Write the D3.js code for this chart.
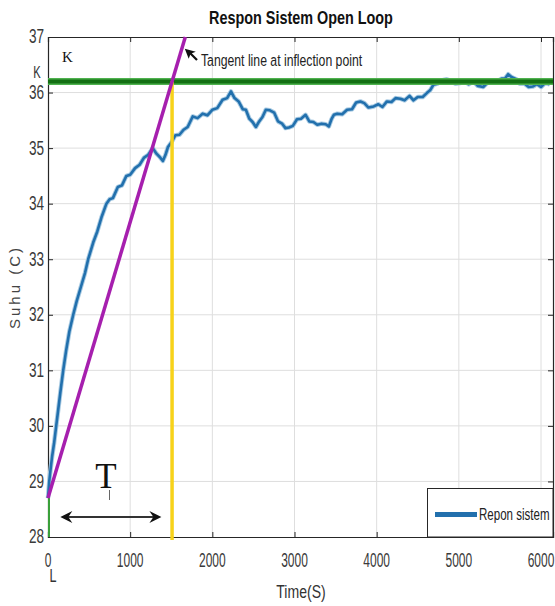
<!DOCTYPE html>
<html><head><meta charset="utf-8">
<script src="https://cdn.jsdelivr.net/npm/d3@7"></script>
<style>body{margin:0;background:#fff}svg{display:block}</style>
</head><body>
<svg id="c" width="555" height="606"></svg>
<script>
// ---- data ----
const timeS = [0,15,30,50,75,100,125,150,185,220,260,307,350,400,450,489,550,600,650,711,750,790,850,900,954,1000,1060,1115,1170,1220,1276,1320,1360,1398,1430,1460,1500,1550,1600,1650,1700,1761,1820,1882,1940,2000,2060,2125,2180,2227,2270,2320,2370,2408,2450,2490,2530,2570,2610,2651,2700,2752,2800,2850,2890,2933,2980,3030,3080,3135,3180,3230,3277,3330,3380,3418,3450,3479,3520,3580,3640,3700,3750,3802,3850,3900,3964,4020,4070,4125,4180,4230,4287,4340,4400,4448,4500,4560,4610,4650,4691,4740,4790,4852,4900,4960,5014,5070,5120,5176,5230,5297,5350,5418,5470,5520,5560,5600,5640,5700,5741,5800,5850,5903,5950,6000,6050,6105];
const suhu = [28.7,29.0,29.2,29.45,29.7,30.0,30.3,30.6,31.0,31.35,31.7,32.0,32.25,32.5,32.75,33.0,33.3,33.5,33.75,34.0,
  34.08,34.1,34.3,34.33,34.5,34.52,34.64,34.7,34.83,34.88,
  35.0,34.9,34.84,34.77,34.88,35.02,35.1,35.23,35.24,35.33,
  35.38,35.57,35.54,35.62,35.59,35.69,35.72,35.87,35.9,36.02,
  35.9,35.84,35.7,35.69,35.53,35.47,35.38,35.48,35.56,35.69,
  35.68,35.64,35.48,35.44,35.36,35.37,35.4,35.52,35.53,35.6,
  35.48,35.47,35.42,35.44,35.43,35.39,35.52,35.6,35.62,35.61,
  35.69,35.7,35.82,35.84,35.81,35.73,35.75,35.79,35.74,35.84,
  35.83,35.9,35.89,35.86,35.94,35.86,35.92,35.92,35.99,36.04,
  36.14,36.16,36.22,36.24,36.21,36.16,36.17,36.21,36.15,36.2,
  36.12,36.1,36.18,36.2,36.2,36.25,36.25,36.33,36.28,36.24,
  36.16,36.16,36.1,36.11,36.15,36.1,36.17,36.15];
const xTicks = [0,1000,2000,3000,4000,5000,6000];
const yTicks = [28,29,30,31,32,33,34,35,36,37];
const K = 36.2;          // steady-state value
const Lval = 0;          // delay L
const y0 = 28.7;         // initial value
const tInflect = 1510;   // L+T
const legendLabel = "Repon sistem";

// ---- layout ----
const svg = d3.select("#c");
const m = {l:48, r:553, t:37, b:537};
const x = d3.scaleLinear().domain([0,6146]).range([m.l, m.r]);
const y = d3.scaleLinear().domain([28,37]).range([m.b, m.t]);
const SX = 0.7;
const SANS = "'Liberation Sans', Arial, sans-serif";
const SERIF = "'Liberation Serif', 'Times New Roman', serif";

function txt(px, py, s, o={}) {
  const g = svg.append("g").attr("transform", `translate(${px},${py}) scale(${o.sx ?? SX},1)${o.rot?` rotate(${o.rot})`:""}`);
  return g.append("text").text(s)
    .attr("font-family", o.family || SANS)
    .attr("font-size", o.size || 18)
    .attr("font-weight", o.weight || "normal")
    .attr("fill", o.fill || "#262626")
    .attr("text-anchor", o.anchor || "start")
    .attr("dominant-baseline", o.baseline || "alphabetic")
    .attr("letter-spacing", o.ls || 0);
}

// grid
const grid = svg.append("g").attr("stroke", "#dedede").attr("stroke-width", 1);
xTicks.filter(d => d > 0).forEach(d => grid.append("line").attr("x1", x(d)).attr("x2", x(d)).attr("y1", m.t).attr("y2", m.b));
yTicks.filter(d => d > 28 && d < 37).forEach(d => grid.append("line").attr("x1", m.l).attr("x2", m.r).attr("y1", y(d)).attr("y2", y(d)));

// axes via d3
const axB = svg.append("g").attr("transform", `translate(0,${m.b})`).call(d3.axisBottom(x).tickValues(xTicks).tickSize(-5).tickFormat(""));
const axT = svg.append("g").attr("transform", `translate(0,${m.t})`).call(d3.axisTop(x).tickValues(xTicks).tickSize(-5).tickFormat(""));
const axL = svg.append("g").attr("transform", `translate(${m.l},0)`).call(d3.axisLeft(y).tickValues(yTicks).tickSize(-5).tickFormat(""));
const axR = svg.append("g").attr("transform", `translate(${m.r},0)`).call(d3.axisRight(y).tickValues(yTicks).tickSize(-5).tickFormat(""));
[axB, axT, axL, axR].forEach(a => { a.selectAll("path").attr("stroke", "#262626").attr("stroke-width", 1.2); a.selectAll("line").attr("stroke", "#262626"); });

// tick labels
xTicks.forEach(d => txt(x(d), 567, d, {anchor:"middle", size:20, sx:0.6, fill:"#3a3a3a"}));
yTicks.forEach(d => txt(44, y(d), d, {anchor:"end", size:20, sx:0.68, baseline:"central", fill:"#3a3a3a"}));

// response line
const line = d3.line().x((d,i) => x(timeS[i])).y((d,i) => y(suhu[i]));
svg.append("path").datum(suhu).attr("d", line).attr("fill", "none")
  .attr("stroke", "#a9cbe3").attr("stroke-width", 4.5).attr("stroke-linejoin", "round");
svg.append("path").datum(suhu).attr("d", line).attr("fill", "none")
  .attr("stroke", "#2270ad").attr("stroke-width", 2.6).attr("stroke-linejoin", "round");

// K line
svg.append("line").attr("x1", x(0)).attr("x2", m.r).attr("y1", y(K)).attr("y2", y(K)).attr("stroke", "#4fb24f").attr("stroke-width", 7);
svg.append("line").attr("x1", x(0)).attr("x2", m.r).attr("y1", y(K)).attr("y2", y(K)).attr("stroke", "#136f13").attr("stroke-width", 4);

// small green L segment
svg.append("line").attr("x1", x(Lval)+1).attr("x2", x(Lval)+1).attr("y1", y(28)).attr("y2", y(y0)).attr("stroke", "#3aa03a").attr("stroke-width", 2);

// yellow vertical
svg.append("line").attr("x1", x(tInflect)).attr("x2", x(tInflect)).attr("y1", y(28)+3).attr("y2", y(K)).attr("stroke", "#f7d21a").attr("stroke-width", 3.5);

// tangent line (magenta)
const slope = (K - y0) / (tInflect - Lval);
const tTop = Lval + (37 - y0) / slope;
svg.append("line").attr("x1", x(Lval)).attr("y1", y(y0)).attr("x2", x(tTop)).attr("y2", y(37))
  .attr("stroke", "#a61fae").attr("stroke-width", 3.5);

// annotation arrow + text
const ax0 = x(1665), ay0 = y(36.79);
svg.append("path").attr("d", `M${ax0},${ay0} l11,3 l-4,1.5 l6,6 l-1.6,1.6 l-6,-6 l-1.5,4 z`).attr("fill", "#111");
txt(201, 66, "Tangent line at inflection point", {size:17, sx:0.72, fill:"#222"});

// K labels
txt(62, 62, "K", {family:SERIF, size:15, sx:1, fill:"#111"});
txt(37, 78, "K", {size:16, anchor:"middle", fill:"#333"});
txt(53, 582, "L", {size:18, anchor:"middle", fill:"#333"});

// T label and double arrow
txt(106, 488, "T", {family:SERIF, size:35, sx:1, anchor:"middle", fill:"#111"});
svg.append("line").attr("x1", 109.5).attr("x2", 109.5).attr("y1", 490).attr("y2", 500).attr("stroke", "#666").attr("stroke-width", 1);
const da = {x1: x(150), x2: x(1380), yy: y(28.36)};
svg.append("line").attr("x1", da.x1+6).attr("x2", da.x2-6).attr("y1", da.yy).attr("y2", da.yy).attr("stroke", "#333").attr("stroke-width", 2);
svg.append("path").attr("d", `M${da.x1},${da.yy} l12,-6 l-4,6 l4,6 z`).attr("fill", "#111");
svg.append("path").attr("d", `M${da.x2},${da.yy} l-12,-6 l4,6 l-4,6 z`).attr("fill", "#111");

// legend
svg.append("rect").attr("x", 427.5).attr("y", 488.5).attr("width", m.r - 427.5).attr("height", m.b - 488.5)
  .attr("fill", "#fff").attr("stroke", "#262626").attr("stroke-width", 1);
svg.append("line").attr("x1", 435).attr("x2", 477).attr("y1", 514.5).attr("y2", 514.5).attr("stroke", "#2270ad").attr("stroke-width", 5);
txt(479, 520, legendLabel, {size:17, sx:0.68, fill:"#222"});

// title and axis labels
txt(301, 24, "Respon Sistem Open Loop", {size:18, weight:"bold", anchor:"middle", sx:0.8, fill:"#111"});
txt(301, 598, "Time(S)", {size:19, anchor:"middle", sx:0.74, fill:"#333"});
txt(20, 287, "Suhu (C)", {size:15, anchor:"middle", sx:1, rot:-90, ls:3, fill:"#444"});
</script>
</body></html>
